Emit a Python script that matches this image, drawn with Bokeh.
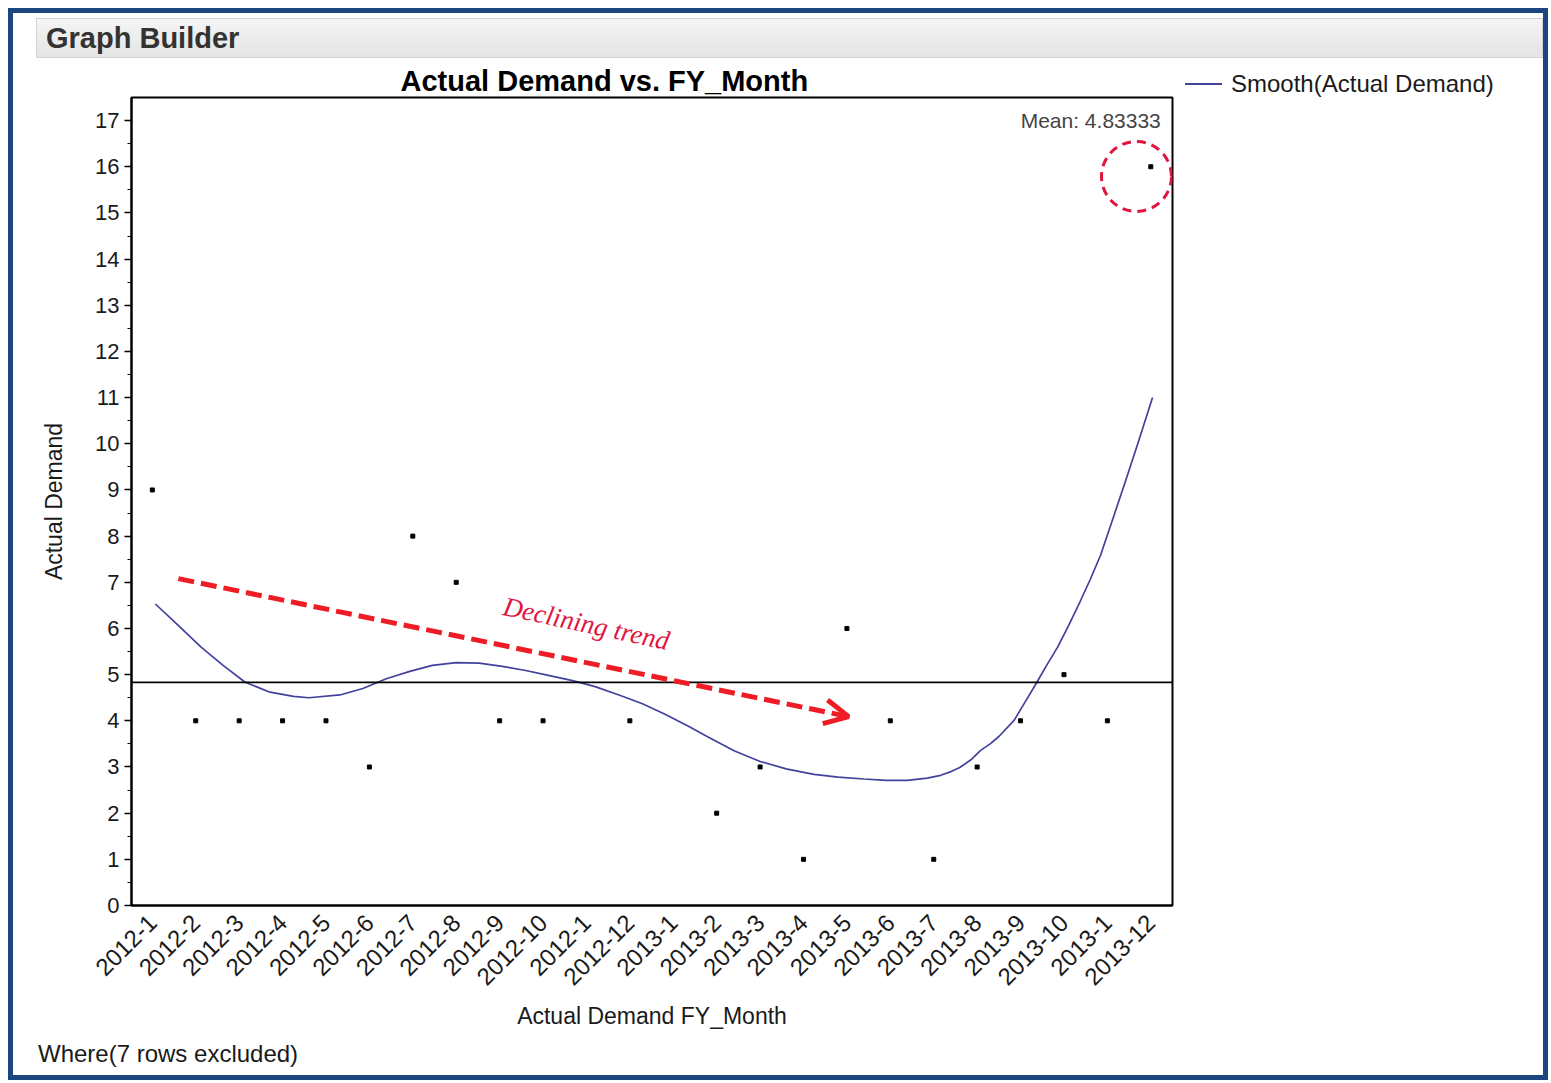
import math
from bokeh.plotting import figure
from bokeh.models import (Range1d, FixedTicker, Span, Label, Arrow, OpenHead, Div)
from bokeh.layouts import column, row
from bokeh.embed import file_html
from bokeh.resources import INLINE

# ---------------- data ----------------
months = ["2012-1", "2012-2", "2012-3", "2012-4", "2012-5", "2012-6", "2012-7",
          "2012-8", "2012-9", "2012-10", "2012-1", "2012-12", "2013-1", "2013-2",
          "2013-3", "2013-4", "2013-5", "2013-6", "2013-7", "2013-8", "2013-9",
          "2013-10", "2013-1", "2013-12"]
demand = [9, 4, 4, 4, 4, 3, 8, 7, 4, 4, None, 4, None, 2, 3, 1, 6, 4, 1, 3, 4, 5, 4, 16]

smooth_x = [0.07, 0.56, 1.13, 1.63, 2.13, 2.71, 3.25, 3.61, 4.32, 4.85, 5.39, 5.93,
            6.45, 7.0, 7.53, 8.06, 8.6, 9.15, 9.68, 10.2, 10.75, 11.29, 11.81, 12.35,
            12.78, 13.4, 14.0, 14.6, 15.24, 15.8, 16.39, 16.9, 17.39, 17.85, 18.16,
            18.4, 18.6, 18.85, 19.08, 19.3, 19.5, 19.85, 20.1, 20.38, 20.6, 20.85,
            21.1, 21.38, 21.6, 21.84, 22.1, 22.42, 22.7, 23.04]
smooth_y = [6.53, 6.10, 5.59, 5.20, 4.84, 4.62, 4.53, 4.50, 4.56, 4.70, 4.91, 5.07,
            5.20, 5.26, 5.25, 5.18, 5.09, 4.98, 4.87, 4.74, 4.56, 4.37, 4.14, 3.88,
            3.66, 3.35, 3.12, 2.96, 2.84, 2.78, 2.74, 2.71, 2.71, 2.76, 2.82,
            2.90, 2.99, 3.15, 3.36, 3.50, 3.66, 4.01, 4.40, 4.84, 5.20, 5.59,
            6.05, 6.60, 7.05, 7.58, 8.30, 9.20, 10.0, 11.0]

mean_demand = 4.83333
y_ticks = list(range(0, 18))
legend_label = "Smooth(Actual Demand)"

pt_x = [i for i, v in enumerate(demand) if v is not None]
pt_y = [v for v in demand if v is not None]

FONT = "Liberation Sans"
RED = "#ee1c24"
CRIMSON = "#e0163f"
SMOOTH_COLOR = "#42429c"

# ---------------- figure ----------------
p = figure(width=1162, height=982,
           x_range=Range1d(-0.48, 23.5), y_range=Range1d(0, 17.5),
           output_backend="svg", toolbar_location=None,
           min_border_left=118, min_border_right=3,
           min_border_top=39, min_border_bottom=135,
           x_axis_label="Actual Demand FY_Month", y_axis_label="Actual Demand")
p.grid.visible = False
p.background_fill_color = "white"
p.border_fill_color = "white"
p.outline_line_color = "black"
p.outline_line_width = 2

p.title.text = "Actual Demand vs. FY_Month"
p.title.align = "left"
p.title.offset = 269
p.title.text_font = FONT
p.title.text_font_size = "29px"
p.title.text_font_style = "bold"
p.title.text_color = "black"
p.title.standoff = 2

# x axis
xa = p.xaxis[0]
xa.ticker = FixedTicker(ticks=list(range(len(months))))
xa.major_label_overrides = {i: m for i, m in enumerate(months)}
xa.major_label_orientation = math.pi / 4
xa.major_tick_line_color = None
xa.minor_tick_line_color = None
xa.major_label_standoff = 7
xa.major_label_text_font = FONT
xa.major_label_text_font_size = "24px"
xa.major_label_text_color = "#1a1a1a"
xa.axis_label_standoff = 7
xa.axis_label_text_font = FONT
xa.axis_label_text_font_size = "23px"
xa.axis_label_text_font_style = "normal"
xa.axis_label_text_color = "#1a1a1a"
xa.axis_line_width = 2
xa.axis_line_color = "black"

# y axis
ya = p.yaxis[0]
ya.ticker = FixedTicker(ticks=y_ticks, minor_ticks=[t + 0.5 for t in y_ticks[:-1]])
ya.major_tick_out = 7
ya.major_tick_in = 0
ya.minor_tick_out = 4
ya.minor_tick_in = 0
ya.major_tick_line_width = 1.5
ya.major_label_standoff = 5
ya.major_label_text_font = FONT
ya.major_label_text_font_size = "22px"
ya.major_label_text_color = "#1a1a1a"
ya.axis_label_standoff = 25
ya.axis_label_text_font = FONT
ya.axis_label_text_font_size = "23px"
ya.axis_label_text_font_style = "normal"
ya.axis_label_text_color = "#1a1a1a"
ya.axis_line_width = 2
ya.axis_line_color = "black"

# mean line
p.add_layout(Span(location=mean_demand, dimension="width",
                  line_color="black", line_width=1.8))
p.add_layout(Label(x=23.23, y=16.76, text=f"Mean: {mean_demand}",
                   text_align="right", text_font=FONT, text_font_size="21px",
                   text_color="#444444"))

# smoother
p.line(smooth_x, smooth_y, line_color=SMOOTH_COLOR, line_width=1.7)

# points
p.scatter(pt_x, pt_y, marker="square", size=4, color="black")

# annotations: declining trend arrow + text
p.add_layout(Arrow(end=OpenHead(size=24, line_color=RED, line_width=5),
                   x_start=0.6, y_start=7.08, x_end=16.04, y_end=4.09,
                   line_color=RED, line_width=5, line_dash="16 7"))
p.add_layout(Label(x=8.02, y=6.17, text="Declining trend", angle=-0.21,
                   text_font="Liberation Serif", text_font_style="italic",
                   text_font_size="27px", text_color=CRIMSON))

# highlight circle around the outlier
p.scatter([22.67], [15.79], marker="circle", size=70, fill_color=None,
          line_color=CRIMSON, line_width=3, line_dash="9 6")

# legend (outside the frame, to the right of the title row)
legend_html = (
    '<div style="display:flex;align-items:center;white-space:nowrap;">'
    f'<span style="display:inline-block;width:37px;height:2px;background:{SMOOTH_COLOR};'
    'margin-right:9px;"></span>'
    f'<span>{legend_label}</span></div>'
)
legend_div = Div(text=legend_html, width=368, height=982, margin=(0, 0, 0, 0),
                 styles={"font-family": FONT, "font-size": "24px", "color": "#1a1a1a",
                         "line-height": "28px", "padding-top": "5px",
                         "padding-left": "10px", "box-sizing": "border-box",
                         "background": "white"})

header = Div(text="Graph Builder", width=1507, height=40, margin=(5, 0, 0, 23),
             styles={"background": "linear-gradient(#f5f5f5, #e4e4e4)",
                     "border": "1px solid #d2d2d2", "box-sizing": "border-box",
                     "font-family": FONT, "font-size": "29px", "font-weight": "bold",
                     "color": "#333333", "line-height": "38px", "padding-left": "9px"})
footer = Div(text="Where(7 rows excluded)", width=400, height=35, margin=(0, 0, 0, 25),
             styles={"font-family": FONT, "font-size": "24px", "color": "#1a1a1a",
                     "line-height": "27px"})

page = column(header, row(p, legend_div, spacing=0), footer, spacing=0,
              margin=(8, 0, 0, 8),
              styles={"border": "5px solid #1d4580", "background": "white"})

open("out.html", "w").write(file_html(page, INLINE, title="Graph Builder"))
